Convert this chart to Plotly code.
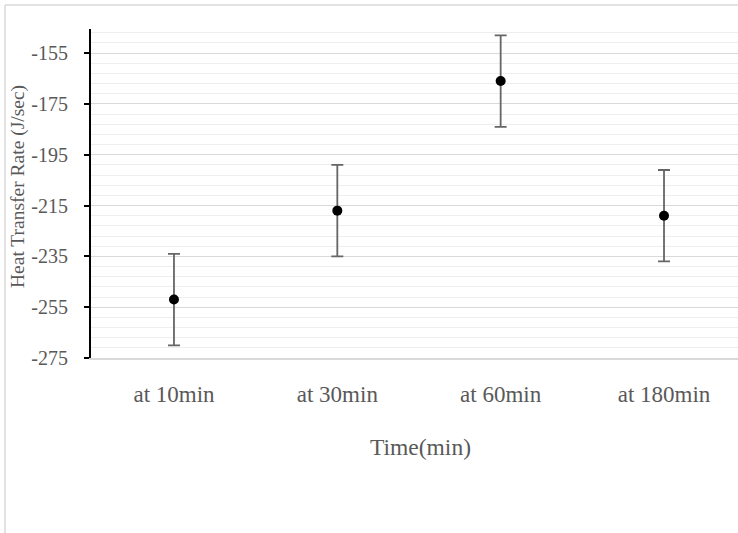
import plotly.graph_objects as go

categories = ["at 10min", "at 30min", "at 60min", "at 180min"]
values = [-252, -217, -166, -219]
errors = [18, 18, 18, 18]
ytick_vals = [-275, -255, -235, -215, -195, -175, -155]
ytick_text = ["-275", "-255", "-235", "-215", "-195", "-175", "-155"]

FONT = "Liberation Serif"
GREY = "#595959"

fig = go.Figure()
fig.add_trace(go.Scatter(
    x=categories, y=values, mode="markers",
    marker=dict(color="black", size=10),
    error_y=dict(type="data", array=errors, visible=True,
                 color="#666666", thickness=1.8, width=6),
    showlegend=False,
))

W, H = 738, 533
L, R, T, B = 91, 0, 29, 175
pw = W - L - R
ph = H - T - B

fig.update_layout(
    width=W, height=H,
    margin=dict(l=L, r=R, t=T, b=B, pad=0),
    paper_bgcolor="white", plot_bgcolor="white",
    font=dict(family=FONT, color=GREY),
    xaxis=dict(
        type="category",
        range=[-0.508, 3.453],
        showgrid=False, zeroline=False,
        showline=True, linecolor="#d9d9d9", linewidth=1.5,
        ticks="", tickfont=dict(size=23, family=FONT, color=GREY),
        ticklabelstandoff=15,
    ),
    yaxis=dict(
        range=[-275, -145.5],
        tickmode="array", tickvals=ytick_vals, ticktext=ytick_text,
        showgrid=True, gridcolor="#d9d9d9", gridwidth=1.3,
        zeroline=False,
        showline=True, linecolor="black", linewidth=2,
        ticks="outside", ticklen=5, tickwidth=1.5, tickcolor="black",
        tickfont=dict(size=20, family=FONT, color=GREY),
        ticklabelstandoff=12,
        minor=dict(dtick=4, tick0=-275, showgrid=True, gridcolor="#eeeeee",
                   gridwidth=1.3, ticks=""),
    ),
    annotations=[
        dict(text="Heat Transfer Rate (J/sec)", textangle=-90,
             xref="paper", yref="paper",
             x=(18 - L) / pw, y=(H - B - 187) / ph,
             xanchor="center", yanchor="middle", showarrow=False,
             font=dict(size=19.5, family=FONT, color=GREY)),
        dict(text="Time(min)", xref="paper", yref="paper",
             x=(420 - L) / pw, y=(H - B - 447) / ph,
             xanchor="center", yanchor="middle", showarrow=False,
             font=dict(size=23.5, family=FONT, color=GREY)),
    ],
    shapes=[
        dict(type="line", xref="paper", yref="paper",
             x0=(5 - L) / pw, x1=(W + 10 - L) / pw,
             y0=(H - B - 5) / ph, y1=(H - B - 5) / ph,
             line=dict(color="#d9d9d9", width=1.5)),
        dict(type="line", xref="paper", yref="paper",
             x0=(5 - L) / pw, x1=(5 - L) / pw,
             y0=(H - B - 5) / ph, y1=(H - B - H - 10) / ph,
             line=dict(color="#d9d9d9", width=1.5)),
    ],
)

fig.write_html("out.html",
               config={"displayModeBar": False},
               post_script="document.body.style.margin='0';document.body.style.padding='0';")
